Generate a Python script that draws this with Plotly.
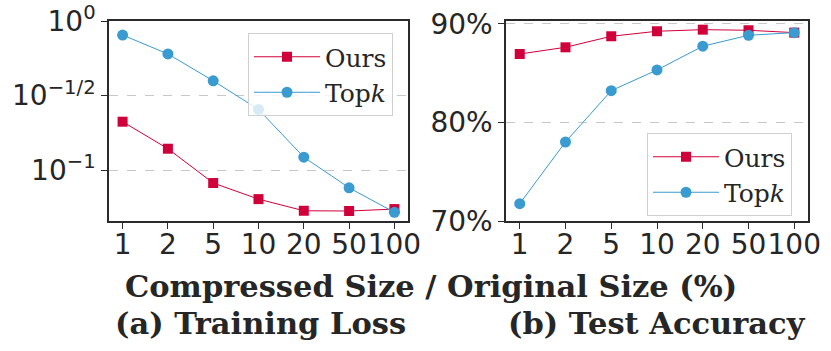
import plotly.graph_objects as go

sizes = ["1", "2", "5", "10", "20", "50", "100"]
loss_ours = [0.211, 0.139, 0.0818, 0.0638, 0.0533, 0.0531, 0.0547]
loss_topk = [0.805, 0.601, 0.397, 0.255, 0.122, 0.0760, 0.0520]
acc_ours = [86.95, 87.63, 88.75, 89.26, 89.42, 89.36, 89.12]
acc_topk = [71.76, 78.02, 83.23, 85.33, 87.74, 88.85, 89.12]

loss_tickvals = [1.0, 10 ** -0.5, 0.1]
loss_ticktext = ["10<sup>0</sup>", "10<sup>−1/2</sup>", "10<sup>−1</sup>"]
acc_tickvals = [70, 80, 90]
acc_ticktext = ["70%", "80%", "90%"]

RED = "#d0003a"
BLUE = "#3a9bd0"
W, H = 831, 351
xidx = list(range(len(sizes)))

fig = go.Figure()
for (xa, ya, yo, yt, show) in [("x", "y", loss_ours, loss_topk, True),
                              ("x2", "y2", acc_ours, acc_topk, False)]:
    fig.add_trace(go.Scatter(x=xidx, y=yo, xaxis=xa, yaxis=ya, mode="lines+markers",
                             name="Ours", legend="legend" if show else "legend2",
                             line=dict(color=RED, width=1),
                             marker=dict(symbol="square", size=10, color=RED)))
    fig.add_trace(go.Scatter(x=xidx, y=yt, xaxis=xa, yaxis=ya, mode="lines+markers",
                             name="Top<i>k</i>", legend="legend" if show else "legend2",
                             line=dict(color=BLUE, width=1),
                             marker=dict(symbol="circle", size=11, color=BLUE)))

def px(x):
    return x / W

def py(y):
    return 1 - y / H

axis_common = dict(showline=True, mirror=True, linecolor="#2a2a2a", linewidth=1.5,
                   ticks="outside", ticklen=6, tickcolor="#2a2a2a", tickwidth=1.3,
                   tickfont=dict(family="DejaVu Sans", size=28, color="#262626"),
                   zeroline=False, automargin=False, ticklabeloverflow="allow")

xcommon = dict(axis_common, tickvals=xidx, ticktext=sizes, range=[-0.3, 6.3],
               showgrid=False, ticklabelstandoff=-8, tickangle=0)

legend_font = dict(family="DejaVu Serif", size=25, color="#262626")

fig.update_layout(
    width=W, height=H,
    margin=dict(l=0, r=0, t=0, b=0, autoexpand=False),
    paper_bgcolor="white", plot_bgcolor="white",
    hovermode=False,
    xaxis=dict(xcommon, domain=[px(109), px(408)], anchor="y"),
    xaxis2=dict(xcommon, domain=[px(506), px(808)], anchor="y2"),
    yaxis=dict(axis_common, type="log", range=[-1.342, 0], domain=[py(221), py(21)],
               tickvals=loss_tickvals, ticktext=loss_ticktext, anchor="x",
               showgrid=True, gridcolor="#c8c8c8", griddash="dash", gridwidth=1),
    yaxis2=dict(axis_common, range=[70, 90.3], domain=[py(221), py(21)],
                tickvals=acc_tickvals, ticktext=acc_ticktext, anchor="x2",
                showgrid=True, gridcolor="#c8c8c8", griddash="dash", gridwidth=1),
    legend=dict(x=px(248), y=py(33), xanchor="left", yanchor="top",
                bgcolor="rgba(255,255,255,0.8)", bordercolor="#d0d0d0", borderwidth=1,
                font=legend_font, itemwidth=66, tracegroupgap=0),
    legend2=dict(x=px(647), y=py(133), xanchor="left", yanchor="top",
                 bgcolor="rgba(255,255,255,0.8)", bordercolor="#d0d0d0", borderwidth=1,
                 font=legend_font, itemwidth=66, tracegroupgap=0),
    font=dict(family="DejaVu Sans", color="#262626"),
)

title_font = dict(family="DejaVu Serif", size=30.5, color="#262626", weight="bold")
fig.add_annotation(text="Compressed Size / Original Size (%)", x=px(430.5), y=py(286),
                   xref="paper", yref="paper", showarrow=False, font=title_font,
                   xanchor="center", yanchor="middle")
fig.add_annotation(text="(a) Training Loss", x=px(260), y=py(323),
                   xref="paper", yref="paper", showarrow=False, font=title_font,
                   xanchor="center", yanchor="middle")
fig.add_annotation(text="(b) Test Accuracy", x=px(656.5), y=py(323),
                   xref="paper", yref="paper", showarrow=False, font=title_font,
                   xanchor="center", yanchor="middle")

# remove the default 8px page margin so the figure sits at the window origin
fig.write_html("out.html", config={"displayModeBar": False},
               post_script="document.body.style.margin='0px';")
